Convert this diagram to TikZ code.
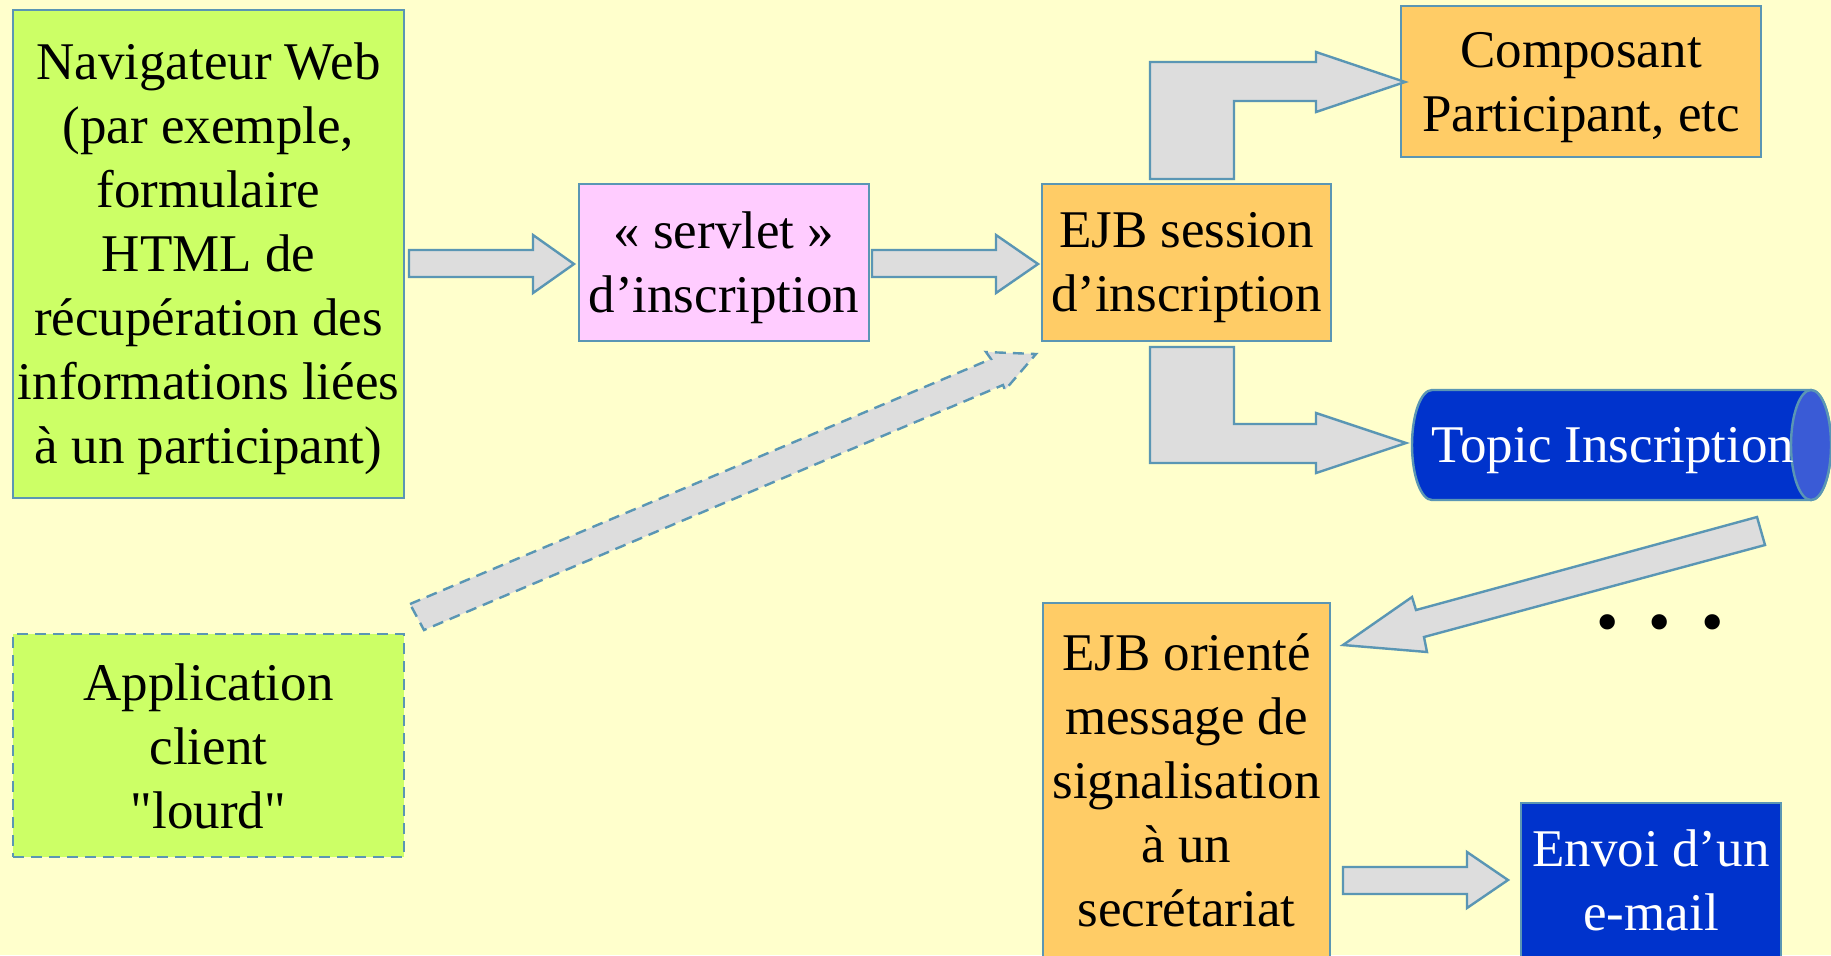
\documentclass[tikz,border=0pt]{standalone}
\usepackage{fontspec}
\setmainfont{Liberation Serif}[Ligatures=TeXOff]
\definecolor{paper}{HTML}{FFFFCC}
\definecolor{lime}{HTML}{CCFF66}
\definecolor{lilac}{HTML}{FFCCFF}
\definecolor{amber}{HTML}{FFCC66}
\definecolor{royal}{HTML}{0033CC}
\definecolor{royallight}{HTML}{3A5BD6}
\definecolor{edge}{RGB}{90,150,180}
\definecolor{pipe}{HTML}{DDDDDD}
\begin{document}
\begin{tikzpicture}[x=0.5pt,y=-0.5pt,
  box/.style={draw=edge, line width=1.2pt, inner sep=0pt, outer sep=0pt},
  lbl/.style={font=\fontsize{26.5pt}{32pt}\selectfont, align=center, inner sep=0pt},
  blk/.style={draw=edge, line width=1.2pt, fill=pipe, line join=miter},
  dashedge/.style={dash pattern=on 5.5pt off 3.5pt},
]
% page
\fill[paper] (0,0) rectangle (1831,955);
\useasboundingbox (0,0) rectangle (1831,955);
\clip (0,0) rectangle (1831,955);

% boxes
\node[box, fill=lime, minimum width=195.5pt, minimum height=244pt] (nav) at (208.5,254) {};
\node[box, fill=lilac, minimum width=145pt, minimum height=78.5pt] (servlet) at (724,262.5) {};
\node[box, fill=amber, minimum width=144.5pt, minimum height=78.5pt] (session) at (1186.5,262.5) {};
\node[box, fill=amber, minimum width=180pt, minimum height=75.5pt] (comp) at (1581,81.5) {};
\node[box, dashedge, fill=lime, minimum width=195.5pt, minimum height=111.5pt] (app) at (208.5,745.5) {};
\node[box, fill=amber, minimum width=143.5pt, minimum height=198.5pt] (mdb) at (1186.5,801.5) {};
\node[box, fill=royal, minimum width=130pt, minimum height=98.5pt] (envoi) at (1651,901.5) {};

% topic (horizontal cylinder)
\draw[edge, line width=1.2pt, fill=royal]
  (1432,390) -- (1811,390)
  arc[start angle=-90, end angle=90, x radius=20, y radius=55]
  -- (1432,500)
  arc[start angle=90, end angle=270, x radius=20, y radius=55] -- cycle;
\draw[edge, line width=1.2pt, fill=royallight] (1811,445) ellipse[x radius=20, y radius=55];

% texts
\node[lbl] (navtxt) at (208.5,259) {Navigateur Web\\(par exemple,\\formulaire\\HTML de\\récupération des\\informations liées\\à un participant)};
\node[lbl] (servlettxt) at (724,268) {« servlet »\\d’inscription};
\node[lbl] (sessiontxt) at (1186.5,268) {EJB session\\d’inscription};
\node[lbl] (comptxt) at (1581,88) {Composant\\Participant, etc};
\node[lbl, text=white] (topic) at (1613,451) {Topic Inscription};
\node[lbl] (apptxt) at (208.5,746) {Application\\client\\"lourd"};
\node[lbl] (mdbtxt) at (1186.5,780) {EJB orienté\\message de\\signalisation\\à un\\secrétariat};
\node[lbl, text=white] (envoitxt) at (1651,880) {Envoi d’un\\e-mail};
\node[font=\fontsize{32pt}{32pt}\selectfont, inner sep=0pt] (more) at (1660,629) {•\hspace{15pt}•\hspace{15pt}•};

% block arrows
\draw[blk] (409,250) -- (533,250) -- (533,235) -- (574,264) -- (533,293) -- (533,277) -- (409,277) -- cycle;
\draw[blk] (872,250) -- (996,250) -- (996,235) -- (1038,264) -- (996,293) -- (996,277) -- (872,277) -- cycle;
\draw[blk] (1343,867) -- (1467,867) -- (1467,852) -- (1508,880) -- (1467,908) -- (1467,894) -- (1343,894) -- cycle;
\draw[blk] (1150,179) -- (1150,62) -- (1316,62) -- (1316,52) -- (1405,82) -- (1316,112) -- (1316,101) -- (1234,101) -- (1234,179) -- cycle;
\draw[blk] (1150,347) -- (1234,347) -- (1234,424) -- (1316,424) -- (1316,413) -- (1406,443) -- (1316,473) -- (1316,463) -- (1150,463) -- cycle;
\draw[blk] (1757,517) -- (1416,610) -- (1412,597) -- (1343,645) -- (1427,652) -- (1424,637) -- (1765,545) -- cycle;
\draw[blk, dashedge] (410,604) -- (991,359) -- (986,352) -- (1036,354) -- (1005,390) -- (1003,385) -- (424,630) -- cycle;
\end{tikzpicture}
\end{document}
